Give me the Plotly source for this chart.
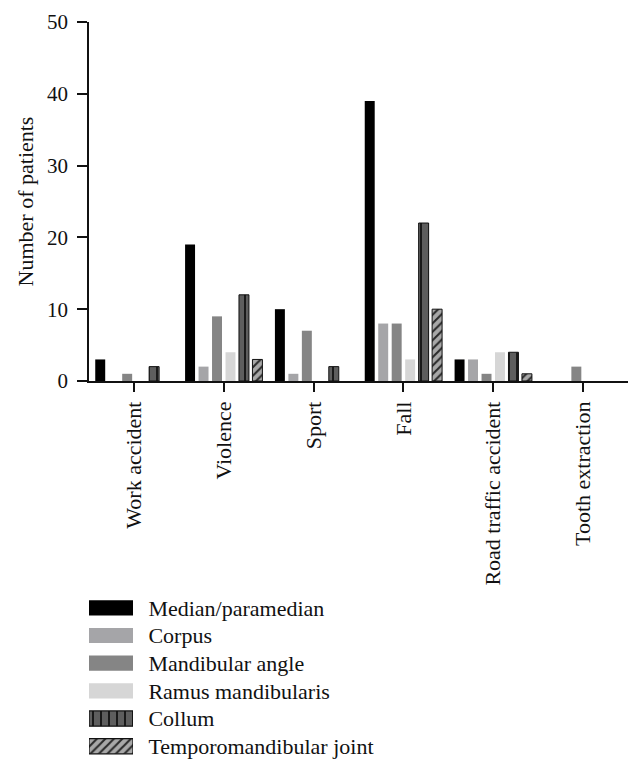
import plotly.graph_objects as go

categories = ["Work accident", "Violence", "Sport", "Fall", "Road traffic accident", "Tooth extraction"]
series_names = ["Median/paramedian", "Corpus", "Mandibular angle", "Ramus mandibularis", "Collum", "Temporomandibular joint"]

median_paramedian = [3, 19, 10, 39, 3, 0]
corpus = [0, 2, 1, 8, 3, 0]
mandibular_angle = [1, 9, 7, 8, 1, 2]
ramus_mandibularis = [0, 4, 0, 3, 4, 0]
collum = [2, 12, 2, 22, 4, 0]
temporomandibular_joint = [0, 3, 0, 10, 1, 0]

y_ticks = [0, 10, 20, 30, 40, 50]

series_values = [median_paramedian, corpus, mandibular_angle, ramus_mandibularis, collum, temporomandibular_joint]

FONT = "Liberation Serif"
styles = [
    dict(color="#000000", line=dict(width=0)),
    dict(color="#a5a5a8", line=dict(width=0)),
    dict(color="#858585", line=dict(width=0)),
    dict(color="#d6d6d6", line=dict(width=0)),
    dict(color="#5e5e5e", line=dict(width=1, color="#111111"),
         pattern=dict(shape="|", fgcolor="#1a1a1a", bgcolor="#5e5e5e", size=8, solidity=0.25, fillmode="replace")),
    dict(color="#a0a0a0", line=dict(width=1, color="#111111"),
         pattern=dict(shape="/", fgcolor="#2a2a2a", bgcolor="#a8a8a8", size=6, solidity=0.35, fillmode="replace")),
]

fig = go.Figure()
for name, vals, st in zip(series_names, series_values, styles):
    fig.add_trace(go.Bar(
        x=categories, y=[v if v else None for v in vals], name=name,
        marker=st, showlegend=False, xaxis="x", yaxis="y",
    ))

# legend swatches drawn on a small helper axis
for name, st in zip(series_names, styles):
    st2 = dict(st)
    if "pattern" in st2:
        st2["line"] = dict(width=1.2, color="#111111")
    fig.add_trace(go.Bar(
        x=[1], y=[name], orientation="h", marker=st2, width=0.55,
        showlegend=False, xaxis="x2", yaxis="y2", hoverinfo="skip",
    ))

fig.update_layout(
    width=642, height=771,
    margin=dict(l=89, r=14, t=22, b=5, autoexpand=False),
    paper_bgcolor="white", plot_bgcolor="white",
    font=dict(family=FONT, size=22, color="#111111"),
    barmode="group", bargap=0.1, bargroupgap=0.26,
    xaxis=dict(
        domain=[0, 1], range=[-0.5, 5.5], anchor="y", automargin=False,
        showline=True, linecolor="#111111", linewidth=1.5,
        ticks="outside", ticklen=9, tickwidth=1.5, tickcolor="#111111",
        ticklabelstandoff=1,
        tickangle=-90, tickfont=dict(family=FONT, size=22),
        showgrid=False, zeroline=False,
    ),
    yaxis=dict(
        domain=[0.5175, 1], range=[0, 50], anchor="x", automargin=False,
        tickvals=y_ticks, ticktext=[str(t) for t in y_ticks],
        showline=True, linecolor="#111111", linewidth=1.5,
        ticks="outside", ticklen=10, tickwidth=1.5, tickcolor="#111111",
        ticklabelstandoff=5,
        tickfont=dict(family=FONT, size=21),
        title=dict(text="Number of patients", font=dict(family=FONT, size=22), standoff=7),
        showgrid=False, zeroline=False,
    ),
    xaxis2=dict(
        domain=[0, 44 / 539], range=[0, 1], anchor="y2", automargin=False,
        visible=False, fixedrange=True,
    ),
    yaxis2=dict(
        domain=[0.008, 0.2312], anchor="x2", side="right", automargin=False,
        type="category", categoryorder="array", categoryarray=series_names,
        autorange="reversed",
        showline=False, showgrid=False, zeroline=False,
        ticks="outside", ticklen=10, tickcolor="rgba(0,0,0,0)",
        tickfont=dict(family=FONT, size=22),
    ),
)

fig.write_html(
    "out.html",
    config={"displayModeBar": False},
    post_script="document.body.style.margin='0';document.body.style.padding='0';",
)
